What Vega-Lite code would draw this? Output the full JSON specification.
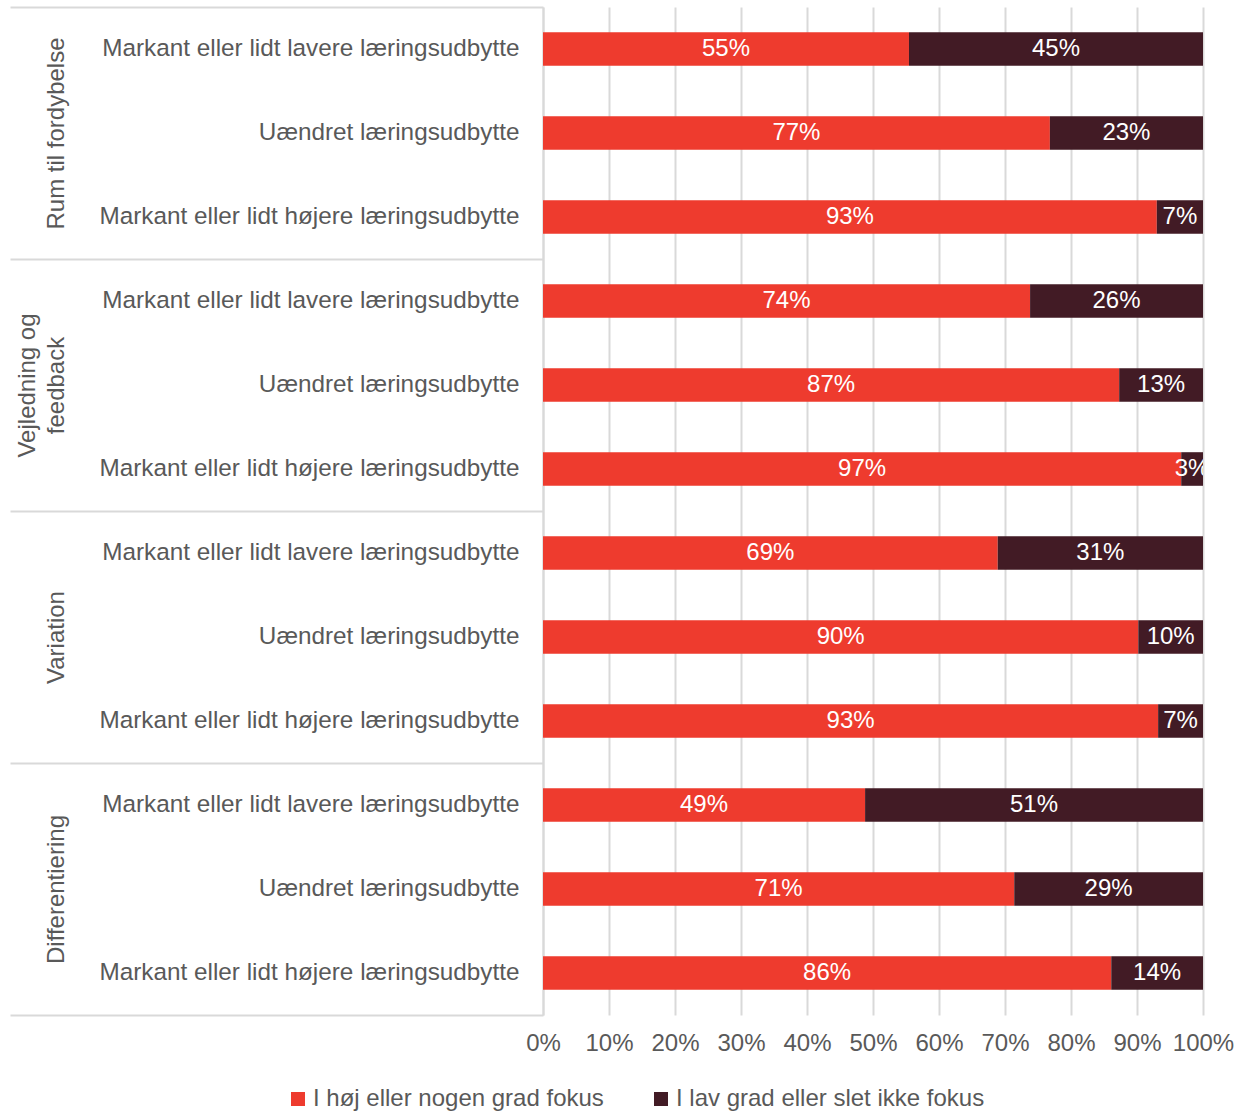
{
  "$schema": "https://vega.github.io/schema/vega-lite/v6.json",
  "width": 660,
  "height": 1008,
  "padding": {"left": 9, "top": 6, "right": 0, "bottom": 0},
  "background": "white",
  "config": {
    "view": {"stroke": null},
    "font": "Liberation Sans"
  },
  "data": {
    "values": [
      {"grp": "Rum til fordybelse", "row": "Rum til fordybelse|Markant eller lidt lavere læringsudbytte", "series": "I høj eller nogen grad fokus", "value": 0.5545},
      {"grp": "Rum til fordybelse", "row": "Rum til fordybelse|Markant eller lidt lavere læringsudbytte", "series": "I lav grad eller slet ikke fokus", "value": 0.4455},
      {"grp": "Rum til fordybelse", "row": "Rum til fordybelse|Uændret læringsudbytte", "series": "I høj eller nogen grad fokus", "value": 0.768},
      {"grp": "Rum til fordybelse", "row": "Rum til fordybelse|Uændret læringsudbytte", "series": "I lav grad eller slet ikke fokus", "value": 0.232},
      {"grp": "Rum til fordybelse", "row": "Rum til fordybelse|Markant eller lidt højere læringsudbytte", "series": "I høj eller nogen grad fokus", "value": 0.93},
      {"grp": "Rum til fordybelse", "row": "Rum til fordybelse|Markant eller lidt højere læringsudbytte", "series": "I lav grad eller slet ikke fokus", "value": 0.07},
      {"grp": "Vejledning og|feedback", "row": "Vejledning og feedback|Markant eller lidt lavere læringsudbytte", "series": "I høj eller nogen grad fokus", "value": 0.738},
      {"grp": "Vejledning og|feedback", "row": "Vejledning og feedback|Markant eller lidt lavere læringsudbytte", "series": "I lav grad eller slet ikke fokus", "value": 0.262},
      {"grp": "Vejledning og|feedback", "row": "Vejledning og feedback|Uændret læringsudbytte", "series": "I høj eller nogen grad fokus", "value": 0.873},
      {"grp": "Vejledning og|feedback", "row": "Vejledning og feedback|Uændret læringsudbytte", "series": "I lav grad eller slet ikke fokus", "value": 0.127},
      {"grp": "Vejledning og|feedback", "row": "Vejledning og feedback|Markant eller lidt højere læringsudbytte", "series": "I høj eller nogen grad fokus", "value": 0.967},
      {"grp": "Vejledning og|feedback", "row": "Vejledning og feedback|Markant eller lidt højere læringsudbytte", "series": "I lav grad eller slet ikke fokus", "value": 0.033},
      {"grp": "Variation", "row": "Variation|Markant eller lidt lavere læringsudbytte", "series": "I høj eller nogen grad fokus", "value": 0.689},
      {"grp": "Variation", "row": "Variation|Markant eller lidt lavere læringsudbytte", "series": "I lav grad eller slet ikke fokus", "value": 0.311},
      {"grp": "Variation", "row": "Variation|Uændret læringsudbytte", "series": "I høj eller nogen grad fokus", "value": 0.902},
      {"grp": "Variation", "row": "Variation|Uændret læringsudbytte", "series": "I lav grad eller slet ikke fokus", "value": 0.098},
      {"grp": "Variation", "row": "Variation|Markant eller lidt højere læringsudbytte", "series": "I høj eller nogen grad fokus", "value": 0.932},
      {"grp": "Variation", "row": "Variation|Markant eller lidt højere læringsudbytte", "series": "I lav grad eller slet ikke fokus", "value": 0.068},
      {"grp": "Differentiering", "row": "Differentiering|Markant eller lidt lavere læringsudbytte", "series": "I høj eller nogen grad fokus", "value": 0.488},
      {"grp": "Differentiering", "row": "Differentiering|Markant eller lidt lavere læringsudbytte", "series": "I lav grad eller slet ikke fokus", "value": 0.512},
      {"grp": "Differentiering", "row": "Differentiering|Uændret læringsudbytte", "series": "I høj eller nogen grad fokus", "value": 0.714},
      {"grp": "Differentiering", "row": "Differentiering|Uændret læringsudbytte", "series": "I lav grad eller slet ikke fokus", "value": 0.286},
      {"grp": "Differentiering", "row": "Differentiering|Markant eller lidt højere læringsudbytte", "series": "I høj eller nogen grad fokus", "value": 0.861},
      {"grp": "Differentiering", "row": "Differentiering|Markant eller lidt højere læringsudbytte", "series": "I lav grad eller slet ikke fokus", "value": 0.139}
    ]
  },
  "layer": [
    {
      "encoding": {
        "y": {
          "field": "row", "type": "nominal", "sort": null,
          "scale": {"paddingInner": 0.6, "paddingOuter": 0.3},
          "axis": {
            "orient": "left", "title": null, "ticks": false, "domain": false, "grid": false,
            "labelExpr": "split(datum.label, '|')[1]",
            "labelPadding": 24, "labelFontSize": 24.3, "labelColor": "#595959",
            "labelFont": "Liberation Sans", "labelLimit": 0, "labelAlign": "right", "labelBaseline": "middle"
          }
        },
        "x": {
          "field": "value", "type": "quantitative", "stack": "zero",
          "scale": {"domain": [0, 1], "nice": false},
          "axis": {
            "title": null, "format": ".0%", "values": [0, 0.1, 0.2, 0.3, 0.4, 0.5, 0.6, 0.7, 0.8, 0.9, 1],
            "domain": false, "ticks": false, "grid": true, "gridColor": "#d9d9d9", "gridWidth": 2,
            "labelFlush": false, "labelPadding": 16, "labelFontSize": 24, "labelColor": "#595959",
            "labelFont": "Liberation Sans", "labelOverlap": false
          }
        },
        "order": {"field": "series", "type": "nominal", "sort": "ascending"}
      },
      "layer": [
        {
          "mark": {"type": "bar"},
          "encoding": {
            "color": {
              "field": "series", "type": "nominal",
              "scale": {"domain": ["I høj eller nogen grad fokus", "I lav grad eller slet ikke fokus"], "range": ["#EE3B2E", "#421B25"]},
              "legend": {
                "orient": "none", "legendX": -257, "legendY": 1080, "direction": "horizontal", "columns": 2,
                "title": null, "symbolType": "square", "symbolSize": 196, "symbolStrokeWidth": 0,
                "labelFontSize": 24, "labelColor": "#595959", "labelFont": "Liberation Sans", "labelLimit": 0,
                "labelOffset": 3, "columnPadding": 45, "padding": 0
              }
            }
          }
        },
        {
          "mark": {"type": "text", "color": "white", "fontSize": 24, "font": "Liberation Sans", "baseline": "middle", "align": "center", "clip": true},
          "encoding": {
            "x": {"field": "value", "type": "quantitative", "stack": "zero", "bandPosition": 0.5},
            "detail": {"field": "series", "type": "nominal"},
            "text": {"field": "value", "type": "quantitative", "format": ".0%"}
          }
        }
      ]
    },
    {
      "mark": {"type": "point", "opacity": 0},
      "encoding": {
        "y": {
          "field": "grp", "type": "nominal",
          "scale": {"domain": ["Rum til fordybelse", "Vejledning og|feedback", "Variation", "Differentiering"], "paddingInner": 0, "paddingOuter": 0},
          "axis": {
            "orient": "left", "title": null, "grid": false,
            "tickBand": "extent", "tickSize": 533, "tickColor": "#d9d9d9", "tickWidth": 2,
            "domain": true, "domainColor": "#d9d9d9", "domainWidth": 2,
            "labelAngle": -90, "labelAlign": "center", "labelBaseline": "bottom",
            "labelPadding": {"condition": {"test": "datum.value === 'Vejledning og|feedback'", "value": -29}, "value": -58},
            "labelFontSize": 24, "labelColor": "#595959", "labelFont": "Liberation Sans",
            "labelLineHeight": 29, "labelLimit": 0, "labelExpr": "split(datum.label, '|')"
          }
        }
      }
    }
  ],
  "resolve": {"scale": {"y": "independent"}, "axis": {"y": "independent"}}
}
